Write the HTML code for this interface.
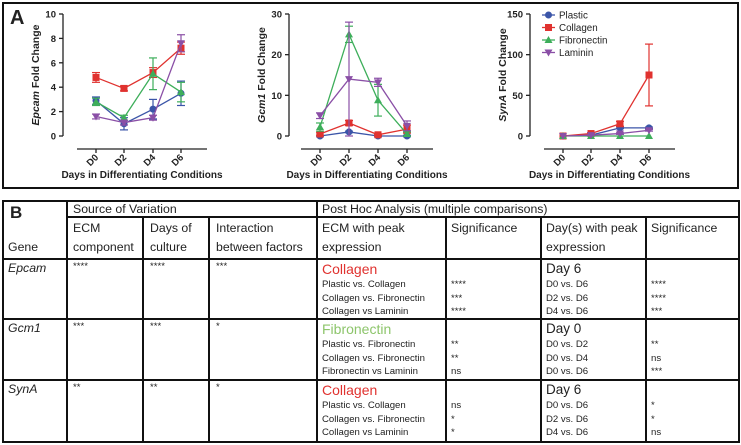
<!DOCTYPE html>
<html><head><meta charset="utf-8"><style>
body{margin:0;width:741px;height:445px;background:#fff;font-family:"Liberation Sans",sans-serif;position:relative;overflow:hidden}
.t{position:absolute;white-space:nowrap;color:#222;line-height:1}
.h{font-size:12.3px}
.s{font-size:9.6px}
.vl{position:absolute;background:#111;width:1.5px}
.hl{position:absolute;background:#111;height:1.5px}
</style></head><body>
<div style="position:absolute;left:2px;top:2px;width:733px;height:183px;border:2.5px solid #111"></div>
<div class="t" style="left:10px;top:8px;font-size:20px;font-weight:bold">A</div>
<svg id="charts" width="741" height="195" style="position:absolute;left:0;top:0"></svg>

<div style="position:absolute;left:2px;top:200px;width:734px;height:239px;border:2.5px solid #111"></div>
<div id="tbl"></div>
<script>
const days=["D0","D2","D4","D6"];
const seriesNames=["Plastic","Collagen","Fibronectin","Laminin"];
const colors=["#3b55a8","#e0322f","#3dae5a","#8a4fa6"];
const epcamVals=[[2.9,1.0,2.2,3.5],[4.8,3.9,5.2,7.2],[2.8,1.5,5.1,3.6],[1.6,1.1,1.5,7.6]];
const epcamErr=[[0.3,0.5,0.8,1.0],[0.4,0.2,0.4,0.5],[0.3,0.2,1.3,0.8],[0.2,0.2,0.2,0.7]];
const epcamTicks=[0,2,4,6,8,10];
const gcmVals=[[0,1,0,0],[0.5,3.2,0.3,1.7],[2.2,25,8.8,0.5],[5,14,13.2,2.5]];
const gcmErr=[[0.2,0.2,0.2,0.2],[0.3,0.6,0.2,1],[1,2,3.9,0.5],[0.7,14,1,1.2]];
const gcmTicks=[0,10,20,30];
const synVals=[[0,1,10,10],[0,3,15,75],[0,0,0,0],[0,1,3,7]];
const synErr=[[0,0.5,1,1],[0,1,3,38],[0,0,0,0],[0,0.5,1,1]];
const synTicks=[0,50,100,150];
const NS="http://www.w3.org/2000/svg";
const svg=document.getElementById('charts');
function mk(tag,attrs,parent){const e=document.createElementNS(NS,tag);for(const k in attrs)e.setAttribute(k,attrs[k]);(parent||svg).appendChild(e);return e;}
function marker(g,i,x,y){
  const c=colors[i];let m;
  if(i===0)m=mk('circle',{cx:x,cy:y,r:3.5,fill:c},g);
  else if(i===1)m=mk('rect',{x:x-3.5,y:y-3.5,width:7,height:7,fill:c},g);
  else if(i===2)m=mk('polygon',{points:`${x},${y-4} ${x-4},${y+3} ${x+4},${y+3}`,fill:c},g);
  else m=mk('polygon',{points:`${x},${y+4} ${x-4},${y-3} ${x+4},${y-3}`,fill:c},g);
  return m;
}
function chart(name,ax,xs,vals,errs,ticks,ymax,title,italic){
  const g=mk('g',{});
  
  
  const y0=136,y1=14;
  const ys=v=>y0-(v/ymax)*(y0-y1);
  const xp=i=>xs[i];
  mk('line',{x1:ax,y1:y1,x2:ax,y2:y0,stroke:'#222','stroke-width':1.3},g);
  ticks.forEach(t=>{
    mk('line',{x1:ax-4,y1:ys(t),x2:ax,y2:ys(t),stroke:'#222','stroke-width':1.3},g);
    const tx=mk('text',{x:ax-7,y:ys(t)+3.5,'text-anchor':'end','font-size':9.5,'font-weight':'bold',fill:'#222'},g);tx.textContent=t;
  });
  const xl=xs[0]-19,xr=xs[3]+26;
  mk('line',{x1:xl,y1:149,x2:xr,y2:149,stroke:'#222','stroke-width':1.3},g);
  days.forEach((d,i)=>{
    mk('line',{x1:xp(i),y1:149,x2:xp(i),y2:153,stroke:'#222','stroke-width':1.3},g);
    const tx=mk('text',{x:xp(i)+3,y:158,'text-anchor':'end','font-size':9.5,'font-weight':'bold',fill:'#222',transform:`rotate(-45 ${xp(i)+3} 158)`},g);tx.textContent=d;
  });
  const xt=mk('text',{x:(xl+xr)/2,y:178,'text-anchor':'middle','font-size':10,'font-weight':'bold',fill:'#222'},g);
  xt.textContent='Days in Differentiating Conditions';
  
  const yt=mk('text',{x:0,y:0,'text-anchor':'middle','font-size':10.5,'font-weight':'bold',fill:'#222',transform:`translate(${ax-24},75) rotate(-90)`},g);
  const it=mk('tspan',{'font-style':'italic'},yt);it.textContent=italic;
  const rt=mk('tspan',{},yt);rt.textContent=' Fold Change';
  
  vals.forEach((s,i)=>{
    const pts=s.map((v,j)=>xp(j)+','+ys(v)).join(' ');
    const pl=mk('polyline',{points:pts,fill:'none',stroke:colors[i],'stroke-width':1.3},g);
    
    s.forEach((v,j)=>{
      const e=errs[i][j];
      if(e>0){
        mk('line',{x1:xp(j),y1:ys(v-e),x2:xp(j),y2:ys(v+e),stroke:colors[i],'stroke-width':1.2},g);
        mk('line',{x1:xp(j)-4,y1:ys(v+e),x2:xp(j)+4,y2:ys(v+e),stroke:colors[i],'stroke-width':1.2},g);
        mk('line',{x1:xp(j)-4,y1:ys(v-e),x2:xp(j)+4,y2:ys(v-e),stroke:colors[i],'stroke-width':1.2},g);
      }
      const m=marker(g,i,xp(j),ys(v));
      
    });
  });
}
chart('epcam',63,[96,124,153,181],epcamVals,epcamErr,epcamTicks,10,'','Epcam');
chart('gcm1',289,[320,349,378,407],gcmVals,gcmErr,gcmTicks,30,'','Gcm1');
chart('syna',530,[563,591,620,649],synVals,synErr,synTicks,150,'','SynA');
const lg=mk('g',{});


seriesNames.forEach((n,i)=>{
  const y=15+i*12.5;
  mk('line',{x1:542,y1:y,x2:555,y2:y,stroke:colors[i],'stroke-width':1.3},lg);
  marker(lg,i,548.5,y);
  const t=mk('text',{x:559,y:y+3.5,'font-size':9.8,fill:'#222'},lg);t.textContent=n;
  
});

// table
const T=document.getElementById('tbl');
function div(cls,style,html,name){const d=document.createElement('div');d.className=cls;d.style.cssText=style;d.innerHTML=html;
 
 
 T.appendChild(d);return d;}
[[66,200,242],[316,200,242],[142,216,226],[208,216,226],[445,216,226],[540,216,226],[645,216,226]].forEach(a=>div('vl',`left:${a[0]}px;top:${a[1]}px;height:${a[2]}px`,'','column-divider'));
[[66,216,672],[2,258,736],[2,318,736],[2,379,736]].forEach(a=>div('hl',`left:${a[0]}px;top:${a[1]}px;width:${a[2]}px`,'','row-divider'));
div('t','left:10px;top:204px;font-size:17px;font-weight:bold','B','panel-b-label');
div('t h','left:73px;top:203px','Source of Variation','header-source');
div('t h','left:322px;top:203px','Post Hoc Analysis (multiple comparisons)','header-posthoc');
div('t h','left:8px;top:241px','Gene','header-gene');
const hd=[[73,'ECM','component'],[150,'Days of','culture'],[216,'Interaction','between factors'],[322,'ECM with peak','expression'],[451,'Significance',''],[546,'Day(s) with peak','expression'],[651,'Significance','']];
hd.forEach(h=>{div('t h',`left:${h[0]}px;top:222px`,h[1],'header-cell');if(h[2])div('t h',`left:${h[0]}px;top:241px`,h[2],'header-cell');});
const rows=[
 {top:262,gene:'Epcam',a:'****',b:'****',c:'***',ecm:'Collagen',col:'#e0322f',cmp:['Plastic vs. Collagen','Collagen vs. Fibronectin','Collagen vs Laminin'],sig:['****','***','****'],day:'Day 6',dcmp:['D0 vs. D6','D2 vs. D6','D4 vs. D6'],dsig:['****','****','***']},
 {top:322,gene:'Gcm1',a:'***',b:'***',c:'*',ecm:'Fibronectin',col:'#8dc56b',cmp:['Plastic vs. Fibronectin','Collagen vs. Fibronectin','Fibronectin vs Laminin'],sig:['**','**','ns'],day:'Day 0',dcmp:['D0 vs. D2','D0 vs. D4','D0 vs. D6'],dsig:['**','ns','***']},
 {top:383,gene:'SynA',a:'**',b:'**',c:'*',ecm:'Collagen',col:'#e0322f',cmp:['Plastic vs. Collagen','Collagen vs. Fibronectin','Collagen vs Laminin'],sig:['ns','*','*'],day:'Day 6',dcmp:['D0 vs. D6','D2 vs. D6','D4 vs. D6'],dsig:['*','*','ns']}
];
rows.forEach(r=>{
 div('t h',`left:8px;top:${r.top}px;font-style:italic`,r.gene,'gene-label');
 div('t s',`left:73px;top:${r.top}px`,r.a,'sig-ecm');
 div('t s',`left:150px;top:${r.top}px`,r.b,'sig-days');
 div('t s',`left:216px;top:${r.top}px`,r.c,'sig-interaction');
 div('t',`left:322px;top:${r.top}px;font-size:14px;color:${r.col}`,r.ecm,'peak-ecm');
 div('t',`left:546px;top:${r.top}px;font-size:13.5px`,r.day,'peak-day');
 for(let k=0;k<3;k++){
  const y=r.top+18+k*13.5;
  div('t s',`left:322px;top:${y}px`,r.cmp[k],'comparison');
  div('t s',`left:451px;top:${y}px`,r.sig[k],'comparison-sig');
  div('t s',`left:546px;top:${y}px`,r.dcmp[k],'day-comparison');
  div('t s',`left:651px;top:${y}px`,r.dsig[k],'day-comparison-sig');
 }
});
</script>
</body></html>
